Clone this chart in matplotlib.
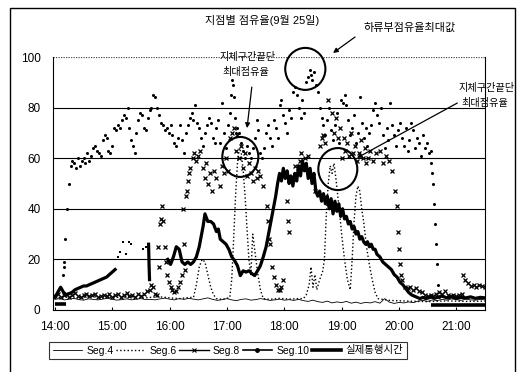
import numpy as np
import matplotlib
matplotlib.use("Agg")
import matplotlib.pyplot as plt
from matplotlib.lines import Line2D
from matplotlib.patches import Ellipse, Rectangle

plt.rcParams['font.family'] = ['Liberation Sans', 'Noto Sans CJK KR', 'DejaVu Sans']

# minutes after 14:00
hour_ticks = [0, 60, 120, 180, 240, 300, 360, 420]
hour_labels = ["14:00", "15:00", "16:00", "17:00", "18:00", "19:00", "20:00", "21:00"]
y_ticks = [0, 20, 40, 60, 80, 100]

# Seg.4 - thin line, every 5 minutes
seg4_t = np.arange(0, 451, 5)
seg4_v = [4.2, 4.5, 4.0, 4.3, 4.6, 4.1, 3.9, 4.4, 4.2, 4.0,
          4.3, 4.6, 4.2, 3.9, 4.1, 4.4, 4.0, 4.3, 4.5, 4.1,
          4.2, 4.0, 4.4, 4.7, 4.3, 4.0, 4.5, 4.2, 4.6, 4.3,
          4.0, 4.4, 4.8, 4.2, 3.8, 4.1, 4.5, 4.0, 3.7, 4.2,
          4.4, 3.9, 4.1, 4.5, 4.2, 3.8, 4.0, 4.3, 3.9, 4.1,
          3.8, 4.2, 3.7, 3.4, 3.9, 3.3, 3.0, 3.5, 2.8, 3.2,
          2.9, 3.4, 2.7, 3.1, 2.6, 3.0, 2.8, 3.3, 2.7, 4.5,
          3.1, 2.6, 3.0, 2.8, 3.2, 2.9, 3.5, 3.8, 3.4, 4.0,
          3.7, 4.2, 3.9, 4.4, 4.1, 3.8, 4.3, 4.0, 3.9, 4.2, 4.0]

# Seg.6 - dotted line
seg6_t = [0, 10, 20, 30, 40, 50, 60, 70, 80, 90, 100, 110, 120, 130, 140,
          145, 148, 151, 154, 157, 160, 163, 166, 169, 175, 180, 183, 185, 187,
          189, 191, 193, 195, 197, 199, 201, 203, 205, 207, 209, 212, 215, 218,
          225, 235, 245, 255, 260, 263, 266, 268, 270, 272, 274, 277, 280, 282,
          284, 286, 288, 290, 292, 294, 296, 298, 300, 303, 306, 309, 311, 313,
          315, 317, 319, 321, 323, 326, 329, 332, 335, 338, 350, 370, 390, 410,
          430, 450]
seg6_v = [4.8, 5.2, 4.6, 5.0, 5.4, 4.7, 5.1, 4.9, 5.3, 4.6, 5.0, 5.2, 4.8, 4.5, 4.9,
          5, 10, 17, 20, 19, 14, 9, 6, 4.5, 4.2, 4.6, 5, 12, 28,
          45, 58, 64, 62, 55, 45, 32, 20, 14, 30, 24, 15, 8, 4.5,
          4.2, 4.6, 4.3, 4.5, 4.5, 6, 10, 17, 9, 14, 8, 12, 15, 20,
          38, 50, 57, 54, 58, 52, 45, 38, 30, 20, 12, 8, 20, 35,
          45, 49, 47, 40, 35, 25, 18, 12, 7, 4.5, 3.8, 3.5, 3.3, 3.6,
          3.4, 3.5]

# Seg.8 - x markers
seg8_low_t = np.arange(0, 97, 3)
seg8_low_v = [5.5, 6.2, 5.0, 5.8, 6.4, 5.3, 5.9, 6.6, 5.6, 5.1, 6.0, 6.5, 5.4, 5.8,
              6.3, 5.2, 5.7, 6.1, 5.5, 6.4, 5.0, 5.9, 6.2, 5.3, 5.8, 6.6, 5.5, 6.0,
              5.2, 6.3, 5.7, 6.5, 7.5]
seg8_pts = [(99, 8), (101, 10), (103, 9), (105, 6.5), (107, 6), (108, 25), (109, 17),
            (110, 34), (111, 36), (112, 41), (113, 35), (115, 25), (116, 19), (117, 14),
            (119, 11), (121, 9), (123, 8), (125, 7), (127, 7.5), (129, 9), (131, 11),
            (133, 14), (134, 40), (135, 26), (136, 16), (137, 45), (138, 47), (139, 51),
            (140, 54), (141, 56), (144, 60), (146, 62), (148, 59), (150, 61), (152, 63),
            (155, 56), (157, 52), (158, 58), (160, 50), (162, 54), (164, 47), (166, 55),
            (169, 52), (173, 49), (175, 57), (177, 54), (179, 60), (181, 55), (183, 68),
            (185, 70), (187, 72), (189, 63), (191, 69), (193, 60), (195, 65), (197, 56),
            (199, 62), (201, 53), (203, 58), (205, 54), (207, 51), (209, 56), (211, 52),
            (213, 55), (215, 53), (218, 49), (222, 41), (223, 35), (224, 28), (225, 26),
            (227, 17), (229, 13), (231, 10), (233, 8), (235, 8), (237, 9), (239, 12),
            (243, 43), (244, 35), (245, 31), (251, 57), (254, 55), (256, 59), (258, 62),
            (260, 56), (262, 60), (265, 61), (272, 47), (277, 65), (279, 68), (281, 69),
            (283, 66), (286, 83), (290, 78), (292, 70), (294, 76), (296, 68), (298, 72),
            (300, 60), (302, 68), (304, 63), (306, 66), (308, 61), (310, 70), (312, 62),
            (314, 65), (316, 59), (318, 62), (320, 67), (322, 60), (324, 64), (326, 58),
            (328, 60), (330, 63), (333, 59), (336, 62), (340, 63), (343, 58), (346, 61),
            (350, 59), (353, 55), (356, 47), (358, 41), (359, 31), (360, 24), (361, 18),
            (362, 14), (363, 12), (366, 9), (369, 8.5), (372, 9), (375, 8), (378, 8.5),
            (381, 7.5), (384, 7), (387, 6), (390, 5.5), (393, 6), (396, 5.5), (399, 6.5),
            (402, 7), (405, 6.5), (408, 7.5), (411, 6), (414, 5.5), (417, 6), (420, 5.5),
            (423, 6), (426, 6.5), (427, 14), (429, 12), (432, 10.5), (435, 9.5), (438, 10),
            (441, 9), (444, 10), (447, 9.5), (450, 9)]

# Seg.10 - dot markers
seg10_pts = [(8, 14), (9, 17), (10, 19), (11, 28), (13, 40), (15, 50), (17, 57), (18, 59),
             (20, 58), (22, 56), (24, 60), (26, 57), (28, 59), (30, 60), (32, 58), (34, 62),
             (36, 59), (38, 61), (40, 64), (42, 65), (44, 63), (46, 62), (48, 61), (50, 67),
             (52, 69), (54, 68), (56, 63), (58, 62), (60, 65), (62, 72), (64, 71), (66, 73),
             (68, 72), (70, 75), (72, 77), (74, 76), (76, 80), (78, 72), (80, 67), (82, 65),
             (84, 62), (85, 70), (87, 75), (89, 78), (91, 77), (93, 72), (95, 71), (97, 76),
             (99, 79), (101, 80), (103, 85), (105, 84), (107, 80), (109, 77), (111, 74),
             (113, 73), (115, 71), (117, 72), (119, 70), (121, 73), (123, 69), (125, 66),
             (127, 65), (129, 68), (131, 73), (133, 67), (135, 62), (137, 70), (139, 73),
             (141, 76), (143, 78), (145, 75), (147, 81), (149, 74), (151, 72), (153, 68),
             (155, 65), (157, 70), (159, 73), (161, 76), (163, 74), (165, 68), (167, 66),
             (169, 72), (171, 75), (173, 66), (175, 82), (177, 70), (179, 64), (181, 73),
             (183, 78), (184, 85), (185, 91), (186, 89), (187, 84), (188, 76), (189, 70),
             (191, 72), (193, 70), (195, 66), (197, 63), (199, 60), (201, 65), (203, 62),
             (205, 60), (207, 64), (209, 68), (211, 75), (213, 71), (215, 62), (217, 60),
             (219, 64), (221, 70), (223, 73), (225, 68), (227, 65), (229, 75), (231, 72),
             (233, 68), (235, 81), (237, 83), (239, 77), (241, 74), (243, 70), (245, 79),
             (247, 76), (249, 86), (251, 88), (253, 85), (255, 80), (257, 76), (259, 83),
             (261, 78), (263, 90), (265, 92), (267, 95), (268, 93), (269, 91), (271, 94),
             (273, 89), (275, 86), (277, 80), (279, 76), (281, 73), (283, 69), (285, 75),
             (287, 80), (289, 71), (291, 67), (293, 73), (295, 78), (297, 66), (299, 83),
             (301, 82), (303, 85), (305, 81), (307, 75), (309, 69), (311, 72), (313, 77),
             (315, 66), (317, 70), (319, 84), (321, 74), (323, 68), (325, 72), (327, 65),
             (329, 70), (331, 73), (333, 79), (335, 82), (337, 77), (339, 74), (341, 80),
             (343, 69), (345, 64), (347, 72), (349, 67), (351, 82), (353, 73), (355, 69),
             (357, 65), (359, 71), (361, 74), (363, 68), (365, 65), (367, 72), (369, 63),
             (371, 67), (373, 74), (375, 71), (377, 64), (379, 68), (381, 66), (383, 61),
             (385, 69), (387, 64), (389, 66), (391, 62), (393, 63), (394, 58), (395, 54),
             (396, 50), (397, 42), (398, 34), (399, 26), (400, 18), (401, 10), (402, 5)]

# 실제통행시간 - thick line (nan = gap)
travel_pts = [(0, 5), (3, 7), (6, 9), (9, 7), (12, 6), (15, 6.5), (18, 7), (21, 8), (24, 8.5),
              (27, 9), (30, 9.5), (33, 9.5), (36, 10), (39, 10.5), (42, 11), (45, 11.5),
              (48, 12), (51, 12.5), (54, 13), (57, 14), (60, 15), (63, 16), (64, np.nan),
              (98, 26), (98.5, 18), (99, 12), (100, np.nan), (118, 20), (121, 18), (124, 21),
              (127, 25), (130, 24), (133, 19), (136, 18), (139, 19), (142, 18), (145, 19),
              (148, 21), (151, 25), (153, 29), (155, 33), (157, 38), (160, 35), (163, 35),
              (166, 34), (169, 31), (171, 32), (173, 28), (176, 27), (179, 26), (182, 24),
              (185, 21), (188, 19.5), (191, 17.5), (194, 13.6), (197, 15.5), (200, 15),
              (203, 15.5), (206, 14.4), (209, 13.6), (212, 15.5), (215, 17.5), (218, 21),
              (221, 25), (224, 31), (227, 37), (229, 41), (231, 45), (233, 50), (235, 54),
              (237, 51), (239, 56), (241, 52), (243, 55), (245, 50), (247, 53), (249, 49),
              (251, 54), (253, 51), (255, 57), (257, 53), (259, 59), (261, 55), (263, 58),
              (265, 52), (267, 56), (269, 50), (271, 54), (273, 47), (275, 45), (277, 47),
              (279, 43), (281, 46), (283, 42), (285, 45), (287, 40), (289, 44), (291, 38),
              (293, 43), (295, 39), (297, 42), (299, 37), (301, 40), (303, 36), (305, 37),
              (307, 34), (309, 35), (311, 32), (313, 33), (315, 30), (317, 31), (319, 28),
              (321, 29), (323, 27), (325, 26), (327, 27), (329, 25), (331, 26), (333, 24),
              (335, 24), (337, 22), (340, 21), (343, 19), (346, 18), (349, 17), (352, 16),
              (355, 14), (358, 13), (361, 11), (364, 10), (367, 8.5), (370, 7), (373, 6),
              (376, 5.5), (379, 5), (382, 4.5), (385, 5), (388, 4.5), (391, 4.8), (394, 5.2),
              (397, 4.6), (400, 5), (405, 5.5), (410, 4.8), (415, 5.2), (420, 4.6), (425, 5),
              (430, 4.8), (435, 5.2), (440, 4.6), (445, 5), (450, 4.8)]
travel_iso = [(66, 21), (68, 23), (71, 27), (74, 22), (77, 27), (80, 26), (92, 24), (95, 25)]
travel_base_t = [0, 12, 13, 394, 452]
travel_base_v = [2.3, 2.3, np.nan, 2, 2]

fig = plt.figure(figsize=(5.25, 3.72), dpi=100)
ax = fig.add_axes([53 / 525, 1 - 310 / 372, 432 / 525, 253 / 372])

ax.plot(seg4_t, seg4_v, color='k', lw=0.6)
ax.plot(seg6_t, seg6_v, color='k', lw=1.0, ls=':')
s8 = np.array(seg8_pts)
ax.plot(seg8_low_t, seg8_low_v, 'x', color='k', ms=3.2, mew=0.9)
ax.plot(s8[:, 0], s8[:, 1], 'x', color='k', ms=3.2, mew=0.9)
s10 = np.array(seg10_pts)
ax.plot(s10[:, 0], s10[:, 1], 'o', color='k', ms=2.2, mew=0)
tr = np.array(travel_pts)
ax.plot(tr[:, 0], tr[:, 1], color='k', lw=2.3)
ti = np.array(travel_iso)
ax.plot(ti[:, 0], ti[:, 1], 's', color='k', ms=2.0, mew=0)
ax.plot(travel_base_t, travel_base_v, color='k', lw=2.6, solid_capstyle='butt')

for y in y_ticks[1:-1]:
    ax.axhline(y, color='k', lw=0.8, zorder=0)
ax.axhline(100, color='0.3', lw=0.9, ls=(0, (1, 1)), zorder=0)

ax.set_xlim(-2, 450)
ax.set_ylim(0, 100)
ax.set_xticks(hour_ticks)
ax.set_xticklabels(hour_labels, fontsize=8.5)
ax.set_yticks(y_ticks)
ax.set_yticklabels([str(v) for v in y_ticks], fontsize=8.5)
ax.tick_params(axis='y', length=0, pad=9)
ax.tick_params(axis='x', length=2, direction='in', pad=8)
ax.spines['top'].set_visible(False)
for s in ['left', 'right', 'bottom']:
    ax.spines[s].set_linewidth(0.8)

# circles and callouts
ax.add_patch(Ellipse((262, 95.3), 42, 16.6, fill=False, lw=1.5, color='k', clip_on=False))
ax.add_patch(Ellipse((194, 60.5), 37.7, 15.8, fill=False, lw=1.5, color='k', clip_on=False))
ax.add_patch(Ellipse((296, 55.7), 40.8, 16.6, fill=False, lw=1.5, color='k', clip_on=False))

arrow = dict(arrowstyle='-|>', color='k', lw=0.9, mutation_scale=7, shrinkA=0, shrinkB=0)
ax.annotate('', xy=(291, 101.6), xytext=(314, 107.9), arrowprops=arrow, annotation_clip=False)
ax.annotate('', xy=(201, 71.9), xytext=(206, 88.1), arrowprops=arrow, annotation_clip=False)
ax.annotate('', xy=(316, 60.1), xytext=(421, 81.8), arrowprops=arrow, annotation_clip=False)

fig.text(0.499, 0.946, "지점별 점유율(9월 25일)", ha='center', va='center', fontsize=8)
fig.text(0.781, 0.925, "하류부점유율최대값", ha='center', va='center', fontsize=8)
fig.text(0.472, 0.847, "지체구간끝단", ha='center', va='center', fontsize=7.3)
fig.text(0.468, 0.806, "최대점유율", ha='center', va='center', fontsize=7.3)
fig.text(0.874, 0.763, "지체구간끝단", ha='left', va='center', fontsize=7.3)
fig.text(0.878, 0.723, "최대점유율", ha='left', va='center', fontsize=7.3)

handles = [Line2D([], [], color='k', lw=0.6),
           Line2D([], [], color='k', lw=1.0, ls=':'),
           Line2D([], [], color='k', lw=1.0, marker='x', ms=3, mew=0.8),
           Line2D([], [], color='k', lw=1.2, marker='o', ms=2.5),
           Line2D([], [], color='k', lw=2.6)]
labels = ["Seg.4", "Seg.6", "Seg.8", "Seg.10", "실제통행시간"]
leg = fig.legend(handles, labels, ncol=5, loc='center', mode='expand',
                 bbox_to_anchor=(44 / 525, 11 / 372, 368 / 525, 21 / 372),
                 fontsize=7.5, frameon=True, fancybox=False, edgecolor='k',
                 handlelength=2.8, handletextpad=0.4, columnspacing=0.8,
                 borderpad=0.35, numpoints=1)
leg.get_frame().set_linewidth(0.8)

fig.patches.append(Rectangle((10 / 525, -0.05), 505 / 525, 1.05 - 8 / 372,
                             transform=fig.transFigure, fill=False, lw=1, color='k'))

fig.savefig("out.png", dpi=100)
